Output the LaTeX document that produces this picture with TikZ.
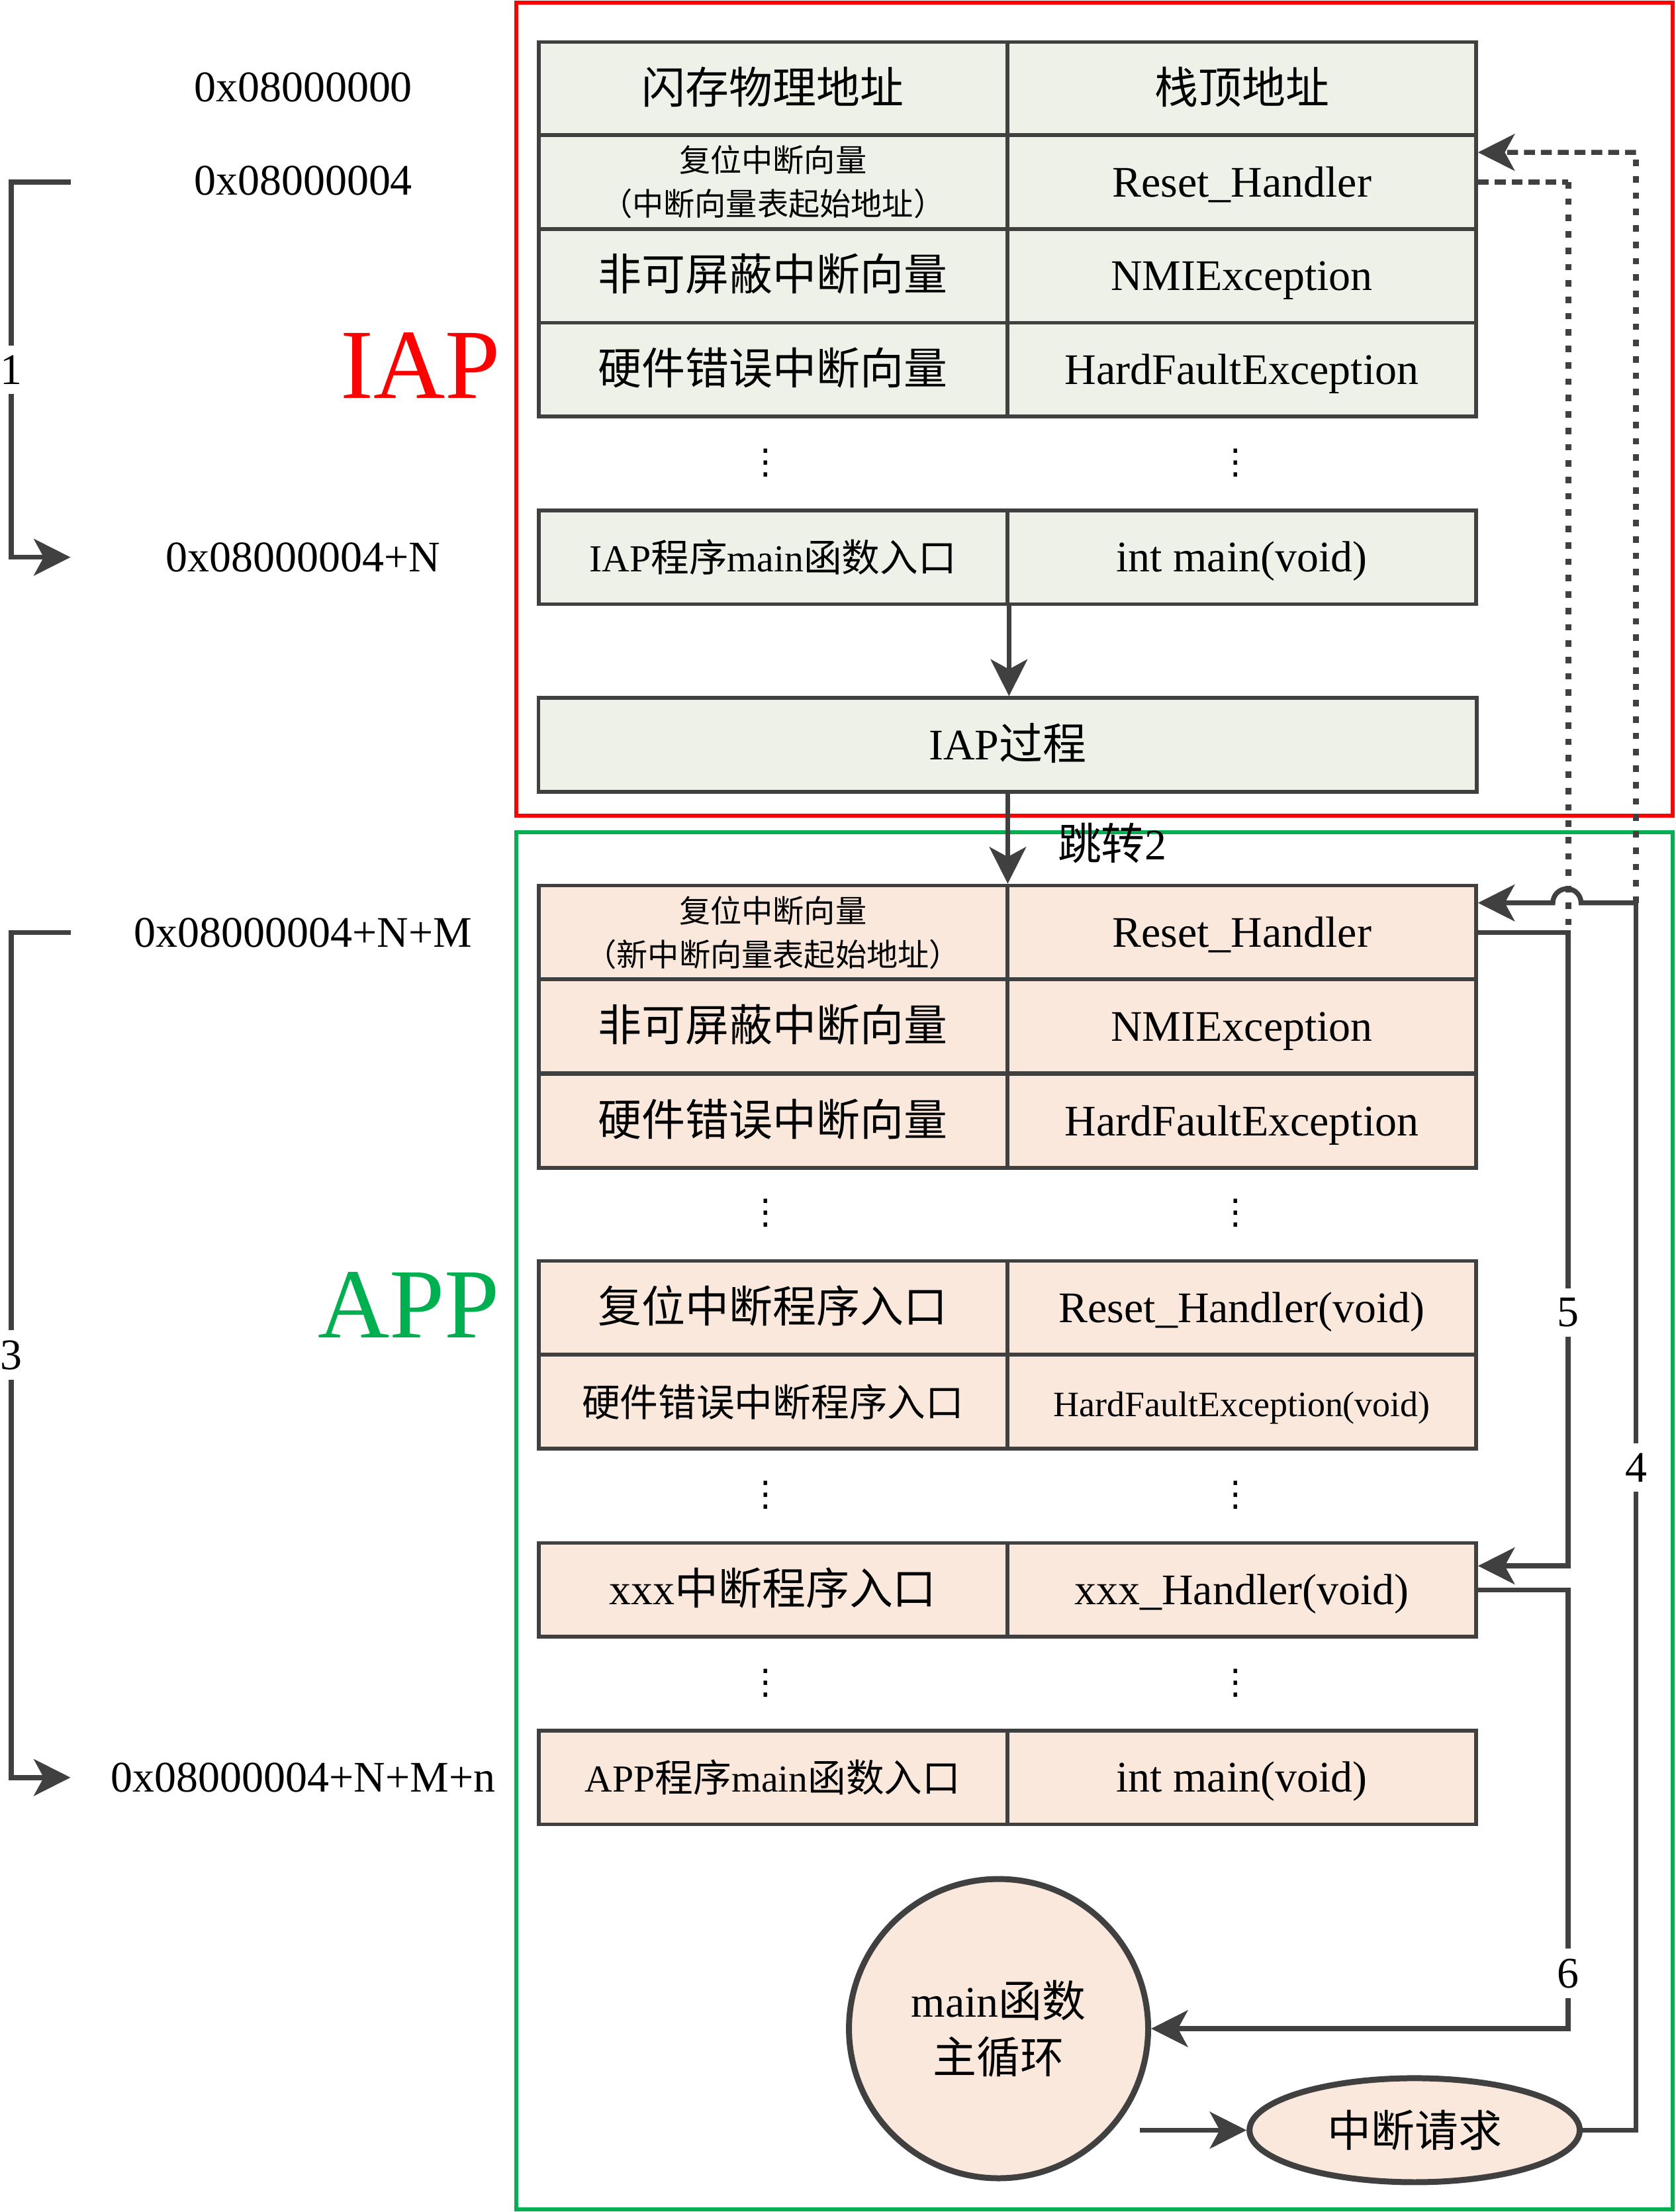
\documentclass[tikz,border=0pt]{standalone}
\usepackage{fontspec}
\setmainfont{Liberation Serif}
\newfontfamily\cjk{Noto Sans CJK SC}
\newfontfamily\symf{DejaVu Sans}
\usetikzlibrary{arrows.meta,shapes.geometric}
\definecolor{iapfill}{RGB}{238,241,232}
\definecolor{appfill}{RGB}{251,232,220}
\definecolor{edgegray}{RGB}{64,64,64}
\definecolor{iapred}{RGB}{255,0,0}
\definecolor{appgreen}{RGB}{0,176,80}
\newcommand{\zh}[1]{{\cjk #1}}

\begin{document}
\begin{tikzpicture}[x=0.01cm, y=-0.01cm, font=\fontsize{8.8}{10.5}\selectfont,
  cell/.style={draw=edgegray, line width=0.75pt, minimum width=3.32cm,
    minimum height=0.665cm, inner sep=0pt, text height=0.82em, text depth=0.23em},
  iapcell/.style={cell, fill=iapfill},
  appcell/.style={cell, fill=appfill},
  small/.style={font=\fontsize{7.7}{9}\selectfont},
  twoline/.style={font=\fontsize{6.3}{8.8}\selectfont, align=center,
    text height={}, text depth={}},
  wire/.style={draw=edgegray, line width=1pt},
  tip/.style={wire, -{Stealth[length=2.6mm, width=2.6mm, inset=0.7mm]}},
  dashwire/.style={wire, dash pattern=on 2.2pt off 1.2pt},
  dotwire/.style={wire, line width=1.15pt, dash pattern=on 1.3pt off 2pt},
  num/.style={fill=white, inner sep=2pt},
  vdot/.style={font=\symf\fontsize{7}{8}\selectfont, inner sep=0pt}]
\useasboundingbox (0,0) rectangle (1188,1568);
\def\LX{548} \def\RX{880.5} \def\MX{714.5}
% the two program areas
\draw[iapred, line width=0.8pt] (366,2) rectangle (1186,578);
\draw[appgreen, line width=0.8pt] (366,590) rectangle (1186,1566);
\node[text=iapred, font=\fontsize{20}{24}\selectfont] (iap) at (298,259) {IAP};
\node[text=appgreen, font=\fontsize{20}{24}\selectfont] (app) at (290,925) {APP};

% flash addresses
\node (ad0) at (215,62) {0x08000000};
\node (ad1) at (215,128) {0x08000004};
\node (ad2) at (215,395) {0x08000004+N};
\node (ad3) at (215,661) {0x08000004+N+M};
\node (ad4) at (215,1260) {0x08000004+N+M+n};

% IAP vector table
\node[iapcell] (l0) at (\LX,63) {\zh{闪存物理地址}};
\node[iapcell] (r0) at (\RX,63) {\zh{栈顶地址}};
\node[iapcell, twoline] (l1) at (\LX,129) {\zh{复位中断向量}\\\zh{（中断向量表起始地址）}};
\node[iapcell] (r1) at (\RX,129) {Reset\_Handler};
\node[iapcell] (l2) at (\LX,195.5) {\zh{非可屏蔽中断向量}};
\node[iapcell] (r2) at (\RX,195.5) {NMIException};
\node[iapcell] (l3) at (\LX,262) {\zh{硬件错误中断向量}};
\node[iapcell] (r3) at (\RX,262) {HardFaultException};
\node[vdot] (dl0) at (543,328) {⋮};
\node[vdot] (dr0) at (876,328) {⋮};
\node[iapcell, small] (l4) at (\LX,395) {IAP\zh{程序}main\zh{函数入口}};
\node[iapcell] (r4) at (\RX,395) {int main(void)};
\node[iapcell, minimum width=6.65cm] (proc) at (\MX,528) {IAP\zh{过程}};

% APP vector table
\node[appcell, twoline] (al0) at (\LX,661) {\zh{复位中断向量}\\\zh{（新中断向量表起始地址）}};
\node[appcell] (ar0) at (\RX,661) {Reset\_Handler};
\node[appcell] (al1) at (\LX,727.5) {\zh{非可屏蔽中断向量}};
\node[appcell] (ar1) at (\RX,727.5) {NMIException};
\node[appcell] (al2) at (\LX,794.5) {\zh{硬件错误中断向量}};
\node[appcell] (ar2) at (\RX,794.5) {HardFaultException};
\node[vdot] (dl1) at (543,860) {⋮};
\node[vdot] (dr1) at (876,860) {⋮};
\node[appcell] (al3) at (\LX,927) {\zh{复位中断程序入口}};
\node[appcell] (ar3) at (\RX,927) {Reset\_Handler(void)};
\node[appcell, small] (al4) at (\LX,993.5) {\zh{硬件错误中断程序入口}};
\node[appcell, font=\fontsize{7.2}{9}\selectfont] (ar4) at (\RX,993.5) {HardFaultException(void)};
\node[vdot] (dl2) at (543,1060) {⋮};
\node[vdot] (dr2) at (876,1060) {⋮};
\node[appcell] (al5) at (\LX,1127) {xxx\zh{中断程序入口}};
\node[appcell] (ar5) at (\RX,1127) {xxx\_Handler(void)};
\node[vdot] (dl3) at (543,1193) {⋮};
\node[vdot] (dr3) at (876,1193) {⋮};
\node[appcell, small] (al6) at (\LX,1260) {APP\zh{程序}main\zh{函数入口}};
\node[appcell] (ar6) at (\RX,1260) {int main(void)};

% main loop and interrupt
\node[circle, draw=edgegray, line width=1.2pt, fill=appfill, minimum size=2.12cm,
  align=center, font=\fontsize{8.8}{11.4}\selectfont] (loop) at (708,1438)
  {main\zh{函数}\\\zh{主循环}};
\node[ellipse, draw=edgegray, line width=1.2pt, fill=appfill, minimum width=2.34cm,
  minimum height=0.67cm] (irq) at (1003,1510) {\zh{中断请求}};
\coordinate (m0) at (808,1510);
\coordinate (b1s) at (50,129);
\coordinate (b1e) at (50,395);
\coordinate (b3s) at (50,661);
\coordinate (b3e) at (50,1260);
\coordinate (t4) at (1160,640);
\coordinate (t4top) at (1160,108);

% address steps 1 and 3
\draw[tip] (b1s) -- ++(-42,0) |- node[pos=0.25, num] {1} (b1e);
\draw[tip] (b3s) -- ++(-42,0) |- node[pos=0.25, num] {3} (b3e);

% IAP -> jump 2 -> APP
\draw[tip] (l4.south east) -- (l4.south east |- proc.north);
\draw[tip] (proc.south) -- (proc.south |- al0.north)
  node[pos=0.55, anchor=west, xshift=0.22cm] {\zh{跳转}2};

% old reset vector (dashed)
\draw[dashwire] (r1.east) -- ++(64,0) coordinate (d1);
\draw[dotwire] (d1) -- (d1 |- ar0.east);
\draw[dotwire] (t4) -- (t4top);
\draw[dashwire, -{Stealth[length=2.6mm, width=2.6mm, inset=0.7mm]}]
  (t4top) -- ([yshift=0.21cm]r1.east);

% 5, 6: reset and interrupt service
\draw[tip] (ar0.east) -- ++(64,0) |- node[pos=0.3, num] {5} ([yshift=0.17cm]ar5.east);
\draw[tip] (ar5.east) -- ++(64,0) |- node[pos=0.437, num] {6} (loop.east);

% 4: interrupt request back to the vector table
\draw[tip] (m0) -- (irq.west);
\draw[wire] (irq.east) -| node[pos=0.77, num] {4} (t4);
\draw[tip] (t4) -- (1121,640) arc[start angle=0, end angle=-180, radius=10]
  -- ([yshift=0.21cm]ar0.east);
\end{tikzpicture}
\end{document}
